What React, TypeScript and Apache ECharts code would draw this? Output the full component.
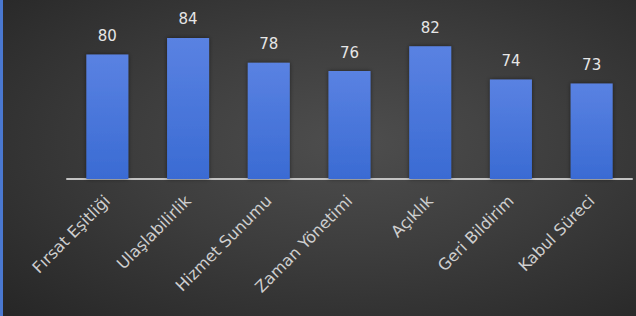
import React, { useEffect, useRef } from "react";
import * as echarts from "echarts";

const categories = [
  "Fırsat Eşitliği",
  "Ulaşlabilirlik",
  "Hizmet Sunumu",
  "Zaman Yönetimi",
  "Açıklık",
  "Geri Bildirim",
  "Kabul Süreci",
];
const values = [80, 84, 78, 76, 82, 74, 73];

export default function App() {
  const ref = useRef<HTMLDivElement>(null);
  useEffect(() => {
    document.body.style.margin = "0";
    const chart = echarts.init(ref.current!, null, { renderer: "svg" });
    chart.setOption({
      animation: false,
      grid: { left: 67, right: 4, top: 13, bottom: 137 },
      xAxis: {
        type: "category",
        data: categories,
        axisLine: { lineStyle: { color: "#c2c2c2", width: 2 } },
        axisTick: { show: false },
        axisLabel: {
          interval: 0,
          rotate: 45,
          color: "#cfcfcf",
          fontSize: 16,
          fontFamily: "DejaVu Sans",
          margin: 19,
        },
      },
      yAxis: {
        type: "value",
        min: 50,
        max: 90,
        show: false,
        splitLine: { show: false },
      },
      series: [
        {
          type: "bar",
          data: values,
          barWidth: 42,
          itemStyle: {
            color: new echarts.graphic.LinearGradient(0, 0, 0, 1, [
              { offset: 0, color: "#5a82e2" },
              { offset: 1, color: "#3a6bd3" },
            ]),
            shadowBlur: 4,
            shadowColor: "rgba(0,0,0,0.5)",
          },
          label: {
            show: true,
            position: "top",
            distance: 11,
            color: "#e6e6e6",
            fontSize: 15,
            fontFamily: "DejaVu Sans",
          },
        },
      ],
    });
    return () => chart.dispose();
  }, []);
  return (
    <div
      style={{
        position: "absolute",
        left: 0,
        top: 0,
        width: 636,
        height: 316,
        boxSizing: "border-box",
        borderLeft: "3px solid #4a78d0",
        background:
          "radial-gradient(ellipse at 55% 45%, #4e4e4e 0%, #3d3d3d 45%, #262626 100%)",
      }}
    >
      <div ref={ref} style={{ position: "absolute", left: -3, top: 0, width: 636, height: 316 }} />
    </div>
  );
}
